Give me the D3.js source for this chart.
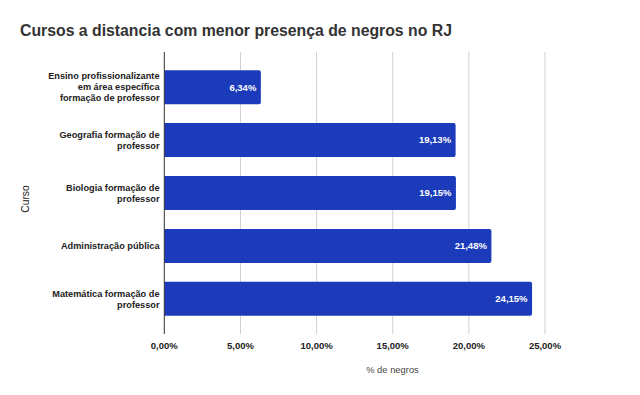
<!DOCTYPE html>
<html><head><meta charset="utf-8">
<script src="https://cdn.jsdelivr.net/npm/d3@7/dist/d3.min.js"></script>
<style>body{margin:0;background:#fff;}svg{display:block;font-family:"Liberation Sans",Arial,sans-serif;}</style>
</head><body><svg id="c" width="640" height="395"></svg>
<script>
const categories = [
  ["Ensino profissionalizante","em área específica","formação de professor"],
  ["Geografia formação de","professor"],
  ["Biologia formação de","professor"],
  ["Administração pública"],
  ["Matemática formação de","professor"]
];
const values = [6.34, 19.13, 19.15, 21.48, 24.15];
const xTicks = [0, 5, 10, 15, 20, 25];
const title = "Cursos a distancia com menor presença de negros no RJ";
const xTitle = "% de negros";
const yTitle = "Curso";

const svg = d3.select("#c");
const fmt = v => v.toFixed(2).replace(".", ",") + "%";
const pL = 164.3, pR = 545, pT = 52, pB = 334;
const x = d3.scaleLinear().domain([0, 25]).range([pL, pR]);
const y = d3.scaleBand().domain(d3.range(values.length)).range([pT, pB]).paddingInner(0.357).paddingOuter(0.343);

svg.append("text").attr("x", 20).attr("y", 36).attr("font-size", 15.8).attr("font-weight", "bold").attr("fill", "#333").text(title);

// gridlines
svg.append("g").selectAll("line").data(xTicks.slice(1)).join("line")
  .attr("x1", d => x(d)).attr("x2", d => x(d)).attr("y1", pT).attr("y2", pB)
  .attr("stroke", "#d0d0d0").attr("stroke-width", 1);

// bars with rounded right end
const r = 2;
svg.append("g").selectAll("path").data(values).join("path")
  .attr("fill", "#1b3bbb")
  .attr("d", (d, i) => {
    const x0 = x(0), x1 = x(d), y0 = y(i), h = y.bandwidth();
    return `M${x0},${y0}H${x1 - r}Q${x1},${y0} ${x1},${y0 + r}V${y0 + h - r}Q${x1},${y0 + h} ${x1 - r},${y0 + h}H${x0}Z`;
  });

svg.append("g").selectAll("text").data(values).join("text")
  .attr("x", d => x(d) - 4.5).attr("y", (d, i) => y(i) + y.bandwidth() / 2 + 3.4)
  .attr("text-anchor", "end").attr("font-size", 9.5).attr("font-weight", "bold").attr("fill", "#fff")
  .text(fmt);

// axis line
svg.append("line").attr("x1", x(0)).attr("x2", x(0)).attr("y1", pT).attr("y2", pB).attr("stroke", "#333").attr("stroke-width", 1);

// x tick labels
svg.append("g").selectAll("text").data(xTicks).join("text")
  .attr("x", d => x(d)).attr("y", 348.5).attr("text-anchor", "middle")
  .attr("font-size", 9.5).attr("font-weight", "bold").attr("fill", "#222").text(fmt);

// y category labels
const lh = 11;
const g = svg.append("g");
categories.forEach((lines, i) => {
  const cy = y(i) + y.bandwidth() / 2;
  const t = g.append("text").attr("text-anchor", "end").attr("font-size", 9.2).attr("font-weight", "bold").attr("fill", "#222");
  lines.forEach((ln, j) => {
    t.append("tspan").attr("x", 159.5).attr("y", cy + (j - (lines.length - 1) / 2) * lh + 3.3).text(ln);
  });
});

svg.append("text").attr("x", 392.5).attr("y", 373.3).attr("text-anchor", "middle").attr("font-size", 9.4).attr("fill", "#444").text(xTitle);
svg.append("text").attr("transform", `translate(28.5,199) rotate(-90)`).attr("text-anchor", "middle")
  .attr("font-size", 10.3).attr("fill", "#222").text(yTitle);
</script></body></html>
